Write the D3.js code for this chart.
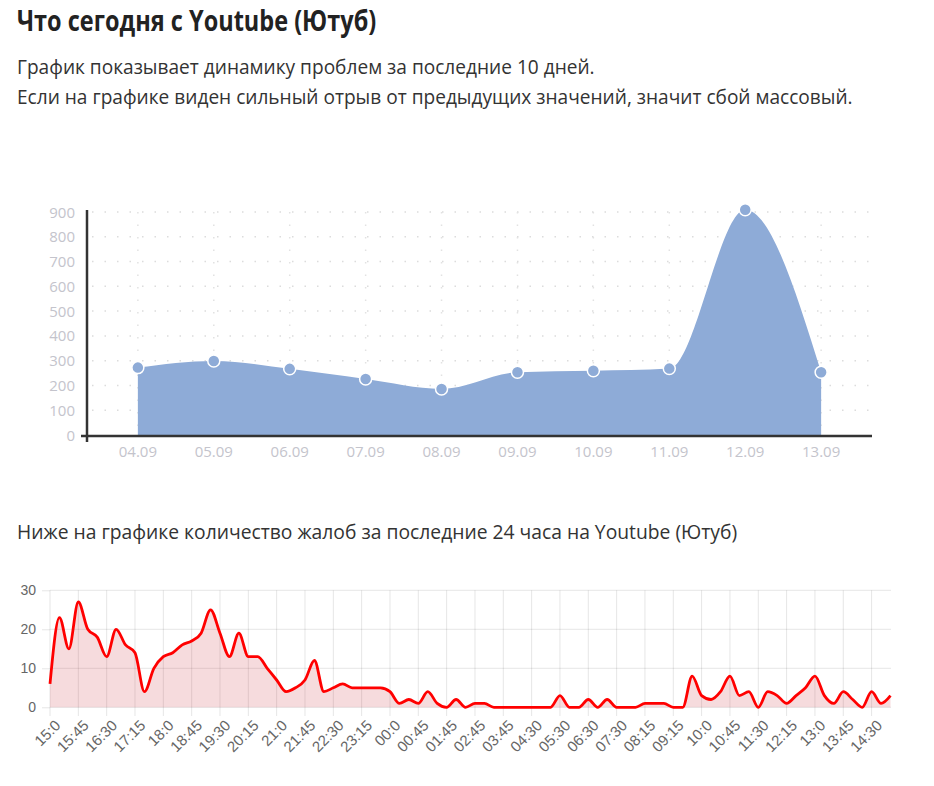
<!DOCTYPE html>
<html>
<head>
<meta charset="utf-8">
<script src="https://cdn.jsdelivr.net/npm/d3@7"></script>
<style>
  body { margin: 0; background: #fff; }
  svg text { font-family: "Open Sans", sans-serif; }
</style>
</head>
<body>
<div id="chart"></div>
<script>
// top chart: last 10 days
var days = ["04.09","05.09","06.09","07.09","08.09","09.09","10.09","11.09","12.09","13.09"];
var dayValues = [272, 299, 267, 226, 186, 253, 259, 268, 909, 253];
var dayTicks = [0, 100, 200, 300, 400, 500, 600, 700, 800, 900];

// bottom chart: last 24 hours, 15-minute points
var hours = ["15:0","15:15","15:30","15:45","16:0","16:15","16:30","16:45","17:0","17:15",
  "17:30","17:45","18:0","18:15","18:30","18:45","19:0","19:15","19:30","19:45",
  "20:0","20:15","20:30","20:45","21:0","21:15","21:30","21:45","22:0","22:15",
  "22:30","22:45","23:0","23:15","23:30","23:45","00:0","00:15","00:30","00:45",
  "01:15","01:30","01:45","02:15","02:30","02:45","03:15","03:30","03:45","04:0",
  "04:15","04:30","05:0","05:15","05:30","06:0","06:15","06:30","07:0","07:15",
  "07:30","07:45","08:0","08:15","08:45","09:0","09:15","09:30","09:45","10:0",
  "10:15","10:30","10:45","11:0","11:15","11:30","11:45","12:0","12:15","12:30",
  "12:45","13:0","13:15","13:30","13:45","14:0","14:15","14:30","14:45","15:0"];
var complaints = [6, 23, 15, 27, 20, 18, 13, 20, 16, 14,
  4, 10, 13, 14, 16, 17, 19, 25, 19, 13,
  19, 13, 13, 10, 7, 4, 5, 7, 12, 4,
  5, 6, 5, 5, 5, 5, 4, 1, 2, 1,
  4, 1, 0, 2, 0, 1, 1, 0, 0, 0,
  0, 0, 0, 0, 3, 0, 0, 2, 0, 2,
  0, 0, 0, 1, 1, 1, 0, 0, 8, 3,
  2, 4, 8, 3, 4, 0, 4, 3, 1, 3,
  5, 8, 3, 1, 4, 2, 0, 4, 1, 3];
var hourTicks = [0, 10, 20, 30];

var svg = d3.select("#chart").append("svg")
  .attr("width", 934)
  .attr("height", 786);

// texts
svg.append("text")
  .attr("transform", "translate(17,31) scale(0.84,1)")
  .attr("font-size", 28)
  .attr("font-weight", 700)
  .attr("fill", "#222")
  .text("Что сегодня с Youtube (Ютуб)");
svg.append("text")
  .attr("x", 17).attr("y", 74)
  .attr("font-size", 19.1)
  .attr("fill", "#333")
  .text("График показывает динамику проблем за последние 10 дней.");
svg.append("text")
  .attr("x", 17).attr("y", 104)
  .attr("font-size", 19.1)
  .attr("fill", "#333")
  .text("Если на графике виден сильный отрыв от предыдущих значений, значит сбой массовый.");
svg.append("text")
  .attr("x", 17).attr("y", 539)
  .attr("font-size", 19.3)
  .attr("fill", "#333")
  .text("Ниже на графике количество жалоб за последние 24 часа на Youtube (Ютуб)");

// ---------- chart 1 ----------
var x1 = d3.scalePoint().domain(days).range([87, 872]).padding(0.67);
var y1 = d3.scaleLinear().domain([0, 900]).range([435, 212]);

var g1 = svg.append("g");

// dotted grid
g1.selectAll(".hgrid").data(dayTicks.slice(1)).enter()
  .append("line")
  .attr("x1", 92).attr("x2", 872)
  .attr("y1", function(d) { return y1(d); })
  .attr("y2", function(d) { return y1(d); })
  .attr("stroke", "#dcdcdc")
  .attr("stroke-width", 1.5)
  .attr("stroke-dasharray", "1.5,11");
g1.selectAll(".vgrid").data(days).enter()
  .append("line")
  .attr("x1", function(d) { return x1(d); })
  .attr("x2", function(d) { return x1(d); })
  .attr("y1", 212).attr("y2", 432)
  .attr("stroke", "#e2e2e2")
  .attr("stroke-width", 1.5)
  .attr("stroke-dasharray", "1.5,11");

var area1 = d3.area()
  .x(function(d, i) { return x1(days[i]); })
  .y0(y1(0))
  .y1(function(d) { return y1(d); })
  .curve(d3.curveMonotoneX);

g1.append("path")
  .datum(dayValues)
  .attr("d", area1)
  .attr("fill", "#8eabd7");

g1.selectAll(".dot").data(dayValues).enter()
  .append("circle")
  .attr("cx", function(d, i) { return x1(days[i]); })
  .attr("cy", function(d) { return y1(d); })
  .attr("r", 6)
  .attr("fill", "#8eabd7")
  .attr("stroke", "#fff")
  .attr("stroke-width", 1.5);

// axes lines
g1.append("line")
  .attr("x1", 87).attr("x2", 87)
  .attr("y1", 210).attr("y2", 442)
  .attr("stroke", "#333").attr("stroke-width", 2.5);
g1.append("line")
  .attr("x1", 81).attr("x2", 872)
  .attr("y1", 436).attr("y2", 436)
  .attr("stroke", "#333").attr("stroke-width", 2.5);

g1.selectAll(".ylab").data(dayTicks).enter()
  .append("text")
  .attr("x", 75)
  .attr("y", function(d) { return y1(d) + 5.5; })
  .attr("text-anchor", "end")
  .attr("font-size", 15)
  .attr("fill", "#c4c4cc")
  .text(function(d) { return d; });
g1.selectAll(".xlab").data(days).enter()
  .append("text")
  .attr("x", function(d) { return x1(d); })
  .attr("y", 457)
  .attr("text-anchor", "middle")
  .attr("font-size", 15)
  .attr("fill", "#c4c4cc")
  .text(function(d) { return d; });

// ---------- chart 2 ----------
var x2 = d3.scalePoint().domain(d3.range(hours.length)).range([50, 890.5]);
var y2 = d3.scaleLinear().domain([0, 30]).range([707.3, 590.3]);

var g2 = svg.append("g");

g2.append("g")
  .attr("transform", "translate(50,0)")
  .call(d3.axisLeft(y2).tickValues(hourTicks).tickSize(8).tickPadding(6))
  .call(function(g) {
    g.select(".domain").remove();
    g.selectAll(".tick line").attr("stroke", "rgba(0,0,0,0.1)");
    g.selectAll(".tick text")
      .attr("fill", "#666")
      .attr("font-size", 14)
      .style("font-family", "'Liberation Sans', Arial, sans-serif");
  });

g2.selectAll(".hgrid2").data(hourTicks).enter()
  .append("line")
  .attr("x1", 50).attr("x2", 891)
  .attr("y1", function(d) { return y2(d); })
  .attr("y2", function(d) { return y2(d); })
  .attr("stroke", "rgba(0,0,0,0.1)");

var shown = d3.range(0, hours.length, 3);
g2.selectAll(".vgrid2").data(shown).enter()
  .append("line")
  .attr("x1", function(d) { return x2(d); })
  .attr("x2", function(d) { return x2(d); })
  .attr("y1", 590.3).attr("y2", 716)
  .attr("stroke", "rgba(0,0,0,0.1)");

g2.selectAll(".xlab2").data(shown).enter()
  .append("text")
  .attr("transform", function(d) { return "translate(" + (x2(d) + 4) + ",719) rotate(-45)"; })
  .attr("text-anchor", "end")
  .attr("dy", "0.7em")
  .attr("font-size", 15)
  .attr("fill", "#666")
  .style("font-family", "'Liberation Sans', Arial, sans-serif")
  .text(function(d) { return hours[d]; });

var area2 = d3.area()
  .x(function(d, i) { return x2(i); })
  .y0(y2(0))
  .y1(function(d) { return y2(d); })
  .curve(d3.curveMonotoneX);
var line2 = d3.line()
  .x(function(d, i) { return x2(i); })
  .y(function(d) { return y2(d); })
  .curve(d3.curveMonotoneX);

g2.append("path")
  .datum(complaints)
  .attr("d", area2)
  .attr("fill", "rgba(200,40,55,0.17)");
g2.append("path")
  .datum(complaints)
  .attr("d", line2)
  .attr("fill", "none")
  .attr("stroke", "#f00")
  .attr("stroke-width", 2.8);
</script>
</body>
</html>
